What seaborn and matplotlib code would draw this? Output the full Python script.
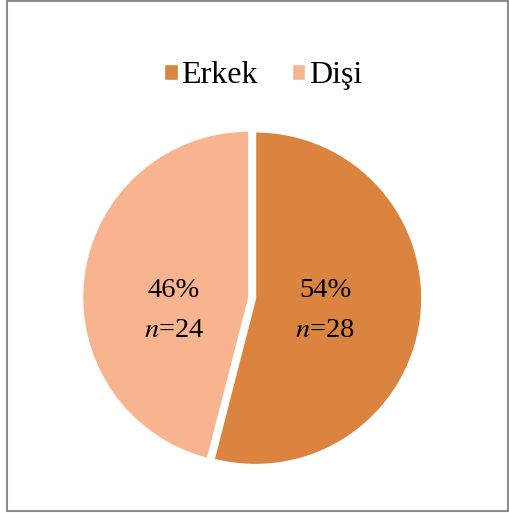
import seaborn as sns
import matplotlib.pyplot as plt
from matplotlib.patches import Rectangle

# Data
categories = ['Erkek', 'Dişi']
percents = [54, 46]
counts = [28, 24]
colors = ['#DA843F', '#F8B48E']

sns.set_style("white")
plt.rcParams['font.family'] = ['Liberation Serif', 'DejaVu Serif']
plt.rcParams['mathtext.fontset'] = 'stix'
plt.rcParams['text.color'] = 'black'

fig = plt.figure(figsize=(5.10, 5.13), dpi=100)
ax = fig.add_axes([0.165, 0.092, 0.659, 0.655])

wedges, _ = ax.pie(percents, colors=colors, startangle=90, counterclock=False,
                   explode=[0.02, 0.02], wedgeprops=dict(edgecolor='white', linewidth=1.0))
ax.set_aspect('equal')
ax.set_xlim(-1.01, 1.01)
ax.set_ylim(-1.01, 1.01)

# Labels inside slices
label_x = [0.44, -0.47]
for i, (p, n) in enumerate(zip(percents, counts)):
    ax.text(label_x[i], -0.075, f"{p}%\n$n$={n}", ha='center', va='center',
            fontsize=20.5, linespacing=1.8)

# Legend
fig.legend(wedges, categories, loc='center', bbox_to_anchor=(0.516, 0.852), ncol=2,
           frameon=False, fontsize=23, handlelength=0.42, handleheight=0.42,
           handletextpad=0.12, columnspacing=1.05)

# Outer border
fig.patches.append(Rectangle((7 / 510, 2 / 513), 501 / 510, 510 / 513, transform=fig.transFigure,
                             fill=False, edgecolor='#8c8c8c', linewidth=1.5))

plt.savefig('out.png', dpi=100)
plt.close()
